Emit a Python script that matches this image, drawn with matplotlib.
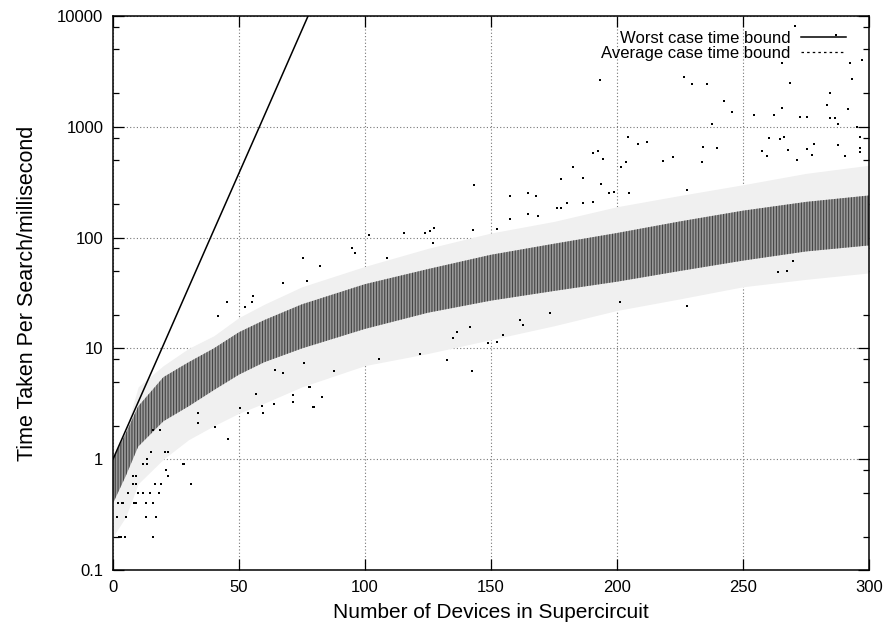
import numpy as np
import matplotlib
matplotlib.use("Agg")
import matplotlib.pyplot as plt
from matplotlib.ticker import FixedLocator, LogLocator, NullFormatter

plt.rcParams["font.family"] = ["Liberation Sans", "DejaVu Sans"]
plt.rcParams["hatch.linewidth"] = 0.8

# worst case bound (straight line on the log axis)
worst_x = [0, 19.4, 38.7, 58.1, 77.4]
worst_y = [1, 10, 100, 1000, 10000]

# measured search times: dense core of the cloud and its sparse halo
band_x = [0, 5, 10, 20, 30, 40, 50, 60, 75, 100, 125, 150, 175, 200, 225, 250, 275, 300]
core_lo = [0.4, 0.7, 1.3, 2.2, 3.0, 4.2, 5.8, 7.5, 10, 15, 21, 27, 33, 40, 50, 62, 75, 85]
core_hi = [1.0, 1.7, 3.0, 5.5, 7.5, 10, 14, 18, 25, 38, 52, 70, 88, 110, 140, 175, 210, 240]
halo_lo = [0.2, 0.3, 0.6, 1.0, 1.5, 2.0, 2.6, 3.2, 4.5, 7, 9, 12, 16, 22, 28, 36, 42, 48]
halo_hi = [1.0, 1.8, 4.5, 7, 10, 13, 19, 25, 36, 55, 80, 110, 140, 190, 240, 300, 380, 450]

# individual stray measurements outside the band
out_x = [2.4, 3.2, 4.8, 16, 1.7, 5.2, 13, 16.9, 2.1, 3.4, 4.0, 8.4, 9.0, 12.9, 15.7,
         6.1, 10.1, 12.1, 14.5, 18.1, 8.1, 9.2, 16.7, 19.1, 31.0, 8.1, 9.1, 22, 21.1,
         12.1, 13.4, 28, 27.9, 20.6, 21.9, 40.5, 45.8, 33.9, 33.9, 16, 18.7, 15, 13.4,
         50.4, 53.7, 59.6, 56.7, 59, 64, 71.5, 71.5, 79.8, 82.8, 78.2, 77.8, 79.5,
         64.3, 67.6, 87.8, 75.8, 105.7, 121.8, 132.4, 142.5, 134.8, 136.6, 141.7,
         148.9, 152.5, 154.6, 161.5, 162.6, 173.4, 201.2, 227.6, 264, 267.3, 270,
         45.1, 52.4, 55, 41.8, 55.4, 67.6, 75.5, 76.9, 82.1, 94.7, 96, 101.7, 108.6,
         115.6, 123.8, 125.8, 127.1, 127.5, 143, 143.4, 152.5, 157.5, 157.5, 164.8,
         164.8, 167.7, 168.8, 176, 177.8, 177.8, 180, 182.5, 186.5, 186.6, 190.5, 190.6,
         192.5, 193.7, 194.4, 197, 199, 201.6, 203.4, 204.8, 204.5, 208.5, 211.8,
         218.4, 222.4, 227.6, 233.6, 234.2, 239.6, 257.4, 259.4, 260.3, 264.7, 266.4,
         268, 271.3, 275.3, 277.2, 278.3, 287.8, 290.5, 296.4, 296.4, 296.4,
         226.6, 229.6, 235.6, 242.5, 245.5, 237.6, 254.4, 262.3, 265.3, 265.3, 268.7,
         272.6, 275.3, 283.5, 284.5, 284.5, 286.5, 287.6, 291.5, 292.5, 297.3, 295.4,
         193.3, 270.6, 287, 293.1]
out_y = [0.2, 0.2, 0.2, 0.2, 0.3, 0.3, 0.3, 0.3, 0.4, 0.4, 0.4, 0.4, 0.4, 0.4, 0.4,
         0.5, 0.5, 0.5, 0.5, 0.5, 0.6, 0.6, 0.6, 0.6, 0.6, 0.7, 0.7, 0.7, 0.8,
         0.9, 0.9, 0.9, 0.9, 1.17, 1.17, 1.96, 1.51, 2.6, 2.1, 1.84, 1.84, 1.17, 1.0,
         2.9, 2.6, 2.6, 3.9, 3.04, 3.15, 3.3, 3.8, 2.94, 3.66, 4.5, 4.5, 2.94,
         6.4, 5.95, 6.3, 7.35, 7.98, 8.9, 7.85, 6.2, 12.3, 14.2, 15.7,
         11.2, 11.5, 13.2, 18, 16.3, 20.7, 26.4, 24.2, 49, 50, 61,
         26, 23.8, 26, 19.7, 30, 38.7, 65, 41, 55, 80, 72, 105, 66,
         109, 110, 115, 90, 121, 117, 299, 119, 239, 146, 162,
         251, 239, 158, 184, 184, 339, 204, 436, 348, 204, 575, 211,
         600, 302, 513, 254, 260, 436, 480, 251, 814, 695, 735,
         491, 537, 270, 484, 660, 648, 608, 546, 800, 780, 810,
         617, 501, 627, 556, 695, 685, 546, 815, 648, 596,
         2830, 2420, 2420, 1710, 1370, 1070, 1280, 1280, 1480, 3800, 2500,
         1220, 1220, 1570, 1200, 2000, 1200, 1070, 1450, 3800, 4000, 1000,
         2650, 8100, 6700, 2700]

fig = plt.figure(figsize=(8.87, 6.26), dpi=100)
ax = fig.add_axes([0.1274, 0.0895, 0.8523, 0.8849])

ax.fill_between(band_x, halo_lo, halo_hi, color="#f0f0f0", linewidth=0, zorder=1)
ax.fill_between(band_x, core_lo, core_hi, facecolor="#9a9a9a", edgecolor="#444444",
                hatch="||||||", linewidth=0, zorder=2)
ax.scatter(out_x, out_y, s=2, marker="s", color="black", linewidths=0, zorder=3)

ax.plot(worst_x, worst_y, color="black", linewidth=1.1, label="Worst case time bound", zorder=4)
ax.plot([], [], color="black", linestyle=(0, (2, 2.5)), linewidth=0.9, label="Average case time bound")

ax.set_yscale("log")
ax.set_xlim(0, 300)
ax.set_ylim(0.1, 10000)
ax.xaxis.set_major_locator(FixedLocator([0, 50, 100, 150, 200, 250, 300]))
ax.yaxis.set_major_locator(FixedLocator([0.1, 1, 10, 100, 1000, 10000]))
ax.yaxis.set_minor_locator(LogLocator(base=10, subs=(2.0, 5.0, 8.0)))
ax.yaxis.set_minor_formatter(NullFormatter())
ax.set_yticklabels(["0.1", "1", "10", "100", "1000", "10000"])

ax.tick_params(which="major", direction="in", length=8, width=0.9, labelsize=12,
               top=True, right=True, pad=7)
ax.tick_params(which="minor", direction="in", length=4, width=0.9, left=True, right=True)
ax.grid(True, which="major", color="#777777", linestyle=(0, (1, 2)), linewidth=0.8)
ax.set_axisbelow(True)
for s in ax.spines.values():
    s.set_linewidth(1.1)

ax.set_xlabel("Number of Devices in Supercircuit", fontsize=15, labelpad=6)
ax.set_ylabel("Time Taken Per Search/millisecond", fontsize=15.5, labelpad=14)

leg = ax.legend(loc="upper right", bbox_to_anchor=(0.976, 0.982), frameon=False,
                markerfirst=False, fontsize=12, handlelength=2.7, handletextpad=0.6,
                borderaxespad=0.0, borderpad=0.3, labelspacing=0.0)
for t in leg.get_texts():
    t.set_ha("right")

fig.savefig("out.png", dpi=100)
plt.close(fig)
